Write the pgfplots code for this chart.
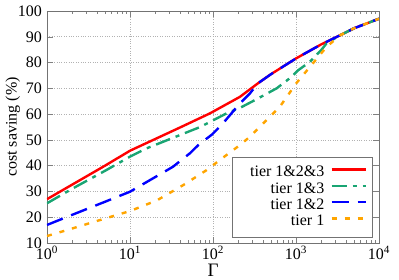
\documentclass[border=0pt]{standalone}
\usepackage{fontspec}
\setmainfont{Liberation Serif}
\usepackage{pgfplots}
\pgfplotsset{compat=1.18}
\definecolor{cred}{RGB}{255,0,0}
\definecolor{cgreen}{RGB}{25,165,115}
\definecolor{cblue}{RGB}{0,0,255}
\definecolor{corange}{RGB}{255,165,0}
\begin{document}
\begin{tikzpicture}[font=\fontsize{16}{18}\selectfont]
\begin{semilogxaxis}[
  scale only axis, width=332pt, height=232pt,
  xmin=1, xmax=10000, ymin=10, ymax=100,
  xtick={1,10,100,1000,10000},
  xticklabels={10\textsuperscript{0},10\textsuperscript{1},10\textsuperscript{2},10\textsuperscript{3},10\textsuperscript{4}},
  minor xtick={2,3,4,5,6,7,8,9,20,30,40,50,60,70,80,90,200,300,400,500,600,700,800,900,2000,3000,4000,5000,6000,7000,8000,9000},
  ytick={10,20,...,100},
  /pgf/number format/assume math mode=true,
  xticklabel style={inner sep=0pt, yshift=-3pt},
  yticklabel style={inner ysep=0pt, inner xsep=5pt},
  xtick pos=both, ytick pos=both, tick align=inside,
  major tick length=6pt, minor tick length=3pt,
  every tick/.style={black!50},
  axis line style={black!55, line width=0.8pt},
  xmajorgrids, ymajorgrids,
  major grid style={dotted, black!30, line width=0.7pt},
  xlabel={Γ}, ylabel={cost saving (\%)},
  every axis y label/.style={at={(axis description cs:-0.103,0.5)}, rotate=90, anchor=center},
  every axis x label/.style={at={(axis description cs:0.5,-0.143)}, anchor=base, inner sep=0pt, font=\fontsize{19}{19}\selectfont},
  legend style={at={(axis description cs:0.982,0.0216)}, anchor=south east,
    draw=black!55, line width=0.6pt, inner xsep=6pt, inner ysep=9pt, row sep=2.8pt, column sep=2pt,
    nodes={inner xsep=4pt, inner ysep=0pt, text height=10.5pt, text depth=3pt},
    font=\fontsize{16}{16}\selectfont},
  legend cell align=right,
  legend plot pos=right,
  legend image code/.code={\draw[#1] (0pt,3.5pt) -- (34pt,3.5pt);},
  every axis plot/.append style={line width=2.4pt},
]
\addplot[cred] coordinates {
 (1,27) (2,32.6) (5,40) (10,45.8) (20,50.3) (40,54.8) (92,60.3) (211,66.7) (350,72)
 (500,75.5) (1000,81.6) (2000,87) (3400,90.6) (5000,93.3) (10000,97)};
\addlegendentry{\hspace*{8pt}tier 1\&2\&3}
\addplot[cgreen, dash pattern=on 15pt off 6pt on 4pt off 6pt] coordinates {
 (1,25.4) (2,31) (5,38) (10,43.5) (15.8,46.7) (33,50.8) (70,55) (146,60.3) (211,62.4) (318,65.4)
 (585,70) (888,74.5) (1060,77) (1470,80.3) (2020,84.9) (2340,87.5) (3400,90.6) (5000,93.3) (10000,97)};
\addlegendentry{tier 1\&3}
\addplot[cblue, dash pattern=on 17pt off 9pt] coordinates {
 (1,17) (2,20.9) (5,26) (10,29.9) (17.4,34.4) (24,37) (33,39.6) (52.7,44.8) (66.5,48) (96.5,52)
 (127,55.8) (161,59.7) (202,63.5) (278,68) (350,72)
 (500,75.5) (1000,81.6) (2000,87) (3400,90.6) (5000,93.3) (10000,97)};
\addlegendentry{tier 1\&2}
\addplot[corange, dash pattern=on 5pt off 8pt] coordinates {
 (1,12.7) (2,15.6) (5,19.5) (10,22.4) (21,26.5) (44,32.5) (84,38.3) (121,42.2) (211,48) (278,51.2)
 (640,62.9) (1010,72) (2340,86.1) (3400,90.6) (5000,93.3) (10000,97)};
\addlegendentry{tier 1}
\end{semilogxaxis}
\pgfresetboundingbox
\path (-47pt,-36pt) rectangle (352pt,243pt);
\end{tikzpicture}
\end{document}
